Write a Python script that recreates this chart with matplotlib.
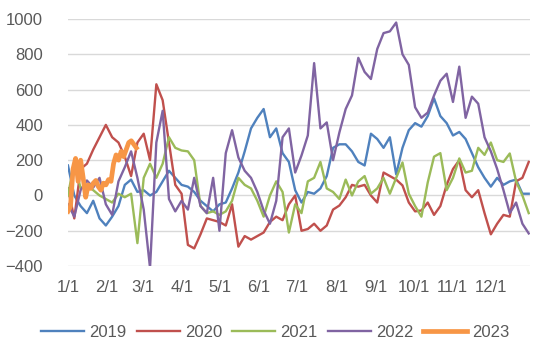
import numpy as np
import matplotlib
matplotlib.use("Agg")
import matplotlib.pyplot as plt

y2019 = [170, 0, -60, -100, -30, -130, -170, -120, -60, 60,
         90, 20, 30, 0, 20, 80, 140, 100, 60, 50,
         20, -30, -60, -90, -50, -40, 40, 130, 250, 380,
         440, 490, 330, 380, 240, 190, 30, -40, 20, 10,
         40, 110, 270, 290, 290, 250, 190, 170, 350, 320,
         270, 330, 120, 270, 370, 410, 390, 450, 550, 450,
         410, 340, 360, 320, 240, 160, 100, 50, 100, 60,
         80, 90, 10, 10]
y2020 = [40, -130, 150, 180, 260, 330, 400, 330, 300, 220,
         110, 300, 350, 200, 630, 540, 300, 60, 10, -280,
         -300, -220, -130, -140, -150, -170, -50, -290, -230, -250,
         -230, -210, -150, -120, -140, -50, 0, -200, -190, -160,
         -200, -170, -80, -57, -10, 60, 50, 60, 0, -40,
         130, 110, 90, 57, -40, -90, -85, -40, -110, -60,
         60, 150, 200, 30, -10, 30, -100, -220, -160, -110,
         -120, 80, 100, 190]
y2021 = [0, 190, 40, 60, 30, 0, -20, -40, 10, -10,
         10, -270, 100, 180, 100, 180, 330, 270, 255, 250,
         200, -60, -100, -90, -110, -90, -30, 100, 60, 40,
         -30, -120, 0, 80, 20, -210, -50, -100, 80, 100,
         190, 40, 20, -20, 90, 0, 80, 110, 10, 40,
         100, 10, 100, 187, 10, -60, -120, 74, 220, 240,
         30, 100, 210, 130, 140, 270, 230, 300, 200, 190,
         238, 80, 0, -100]
y2022 = [-50, -120, 30, 85, 45, 100, -50, -110, 80, 160,
         250, 100, -80, -410, 300, 480, -20, -90, -30, -80,
         100, -60, -100, 100, -200, 240, 370, 215, 140, 100,
         20, -85, -160, -30, 330, 380, 130, 227, 340, 750,
         380, 414, 200, 357, 490, 567, 780, 700, 660, 830,
         920, 930, 980, 800, 740, 500, 440, 470, 567, 650,
         690, 530, 730, 440, 560, 520, 330, 250, 150, 30,
         -100, -40, -160, -215]
# 2023 only covers Jan-Feb, sampled every 2 days
y2023 = [-90, -60, 150, 210, 80, 200, 100, -10, 60, 40,
         70, 85, 50, 30, 70, 60, 90, 80, 180, 230,
         200, 250, 220, 260, 300, 310, 290, 270]

days = np.linspace(0, 364, len(y2019))
days_2023 = np.arange(len(y2023)) * 2

month_days = [0, 31, 59, 90, 120, 151, 181, 212, 243, 273, 304, 334]
month_labels = ["1/1", "2/1", "3/1", "4/1", "5/1", "6/1",
                "7/1", "8/1", "9/1", "10/1", "11/1", "12/1"]

plt.rcParams['font.family'] = ['Liberation Sans', 'DejaVu Sans']

fig = plt.figure(figsize=(5.5, 3.62), dpi=100)
ax = fig.add_axes([0.1236, 0.265, 0.84, 0.6825])

ax.plot(days, y2019, color='#4F81BD', lw=1.7, label='2019')
ax.plot(days, y2020, color='#C0504D', lw=1.7, label='2020')
ax.plot(days, y2021, color='#9BBB59', lw=1.7, label='2021')
ax.plot(days, y2022, color='#8064A2', lw=1.7, label='2022')
ax.plot(days_2023, y2023, color='#F79646', lw=3.4, label='2023')

ax.set_xlim(0, 365)
ax.set_ylim(-400, 1000)
ax.set_yticks(range(-400, 1001, 200))
ax.set_xticks(month_days)
ax.set_xticklabels(month_labels)
ax.grid(axis='y', color='#D9D9D9', lw=1)
ax.set_axisbelow(True)
for s in ax.spines.values():
    s.set_visible(False)
ax.tick_params(length=0, labelsize=12, colors='#595959', pad=10)
ax.tick_params(axis='y', pad=18)

fig.legend(loc='lower center', bbox_to_anchor=(0.5, 0.02), ncol=5,
           frameon=False, fontsize=12, handlelength=2.6, columnspacing=0.6,
           handletextpad=0.3, labelcolor='#595959')

fig.savefig('out.png', dpi=100)
